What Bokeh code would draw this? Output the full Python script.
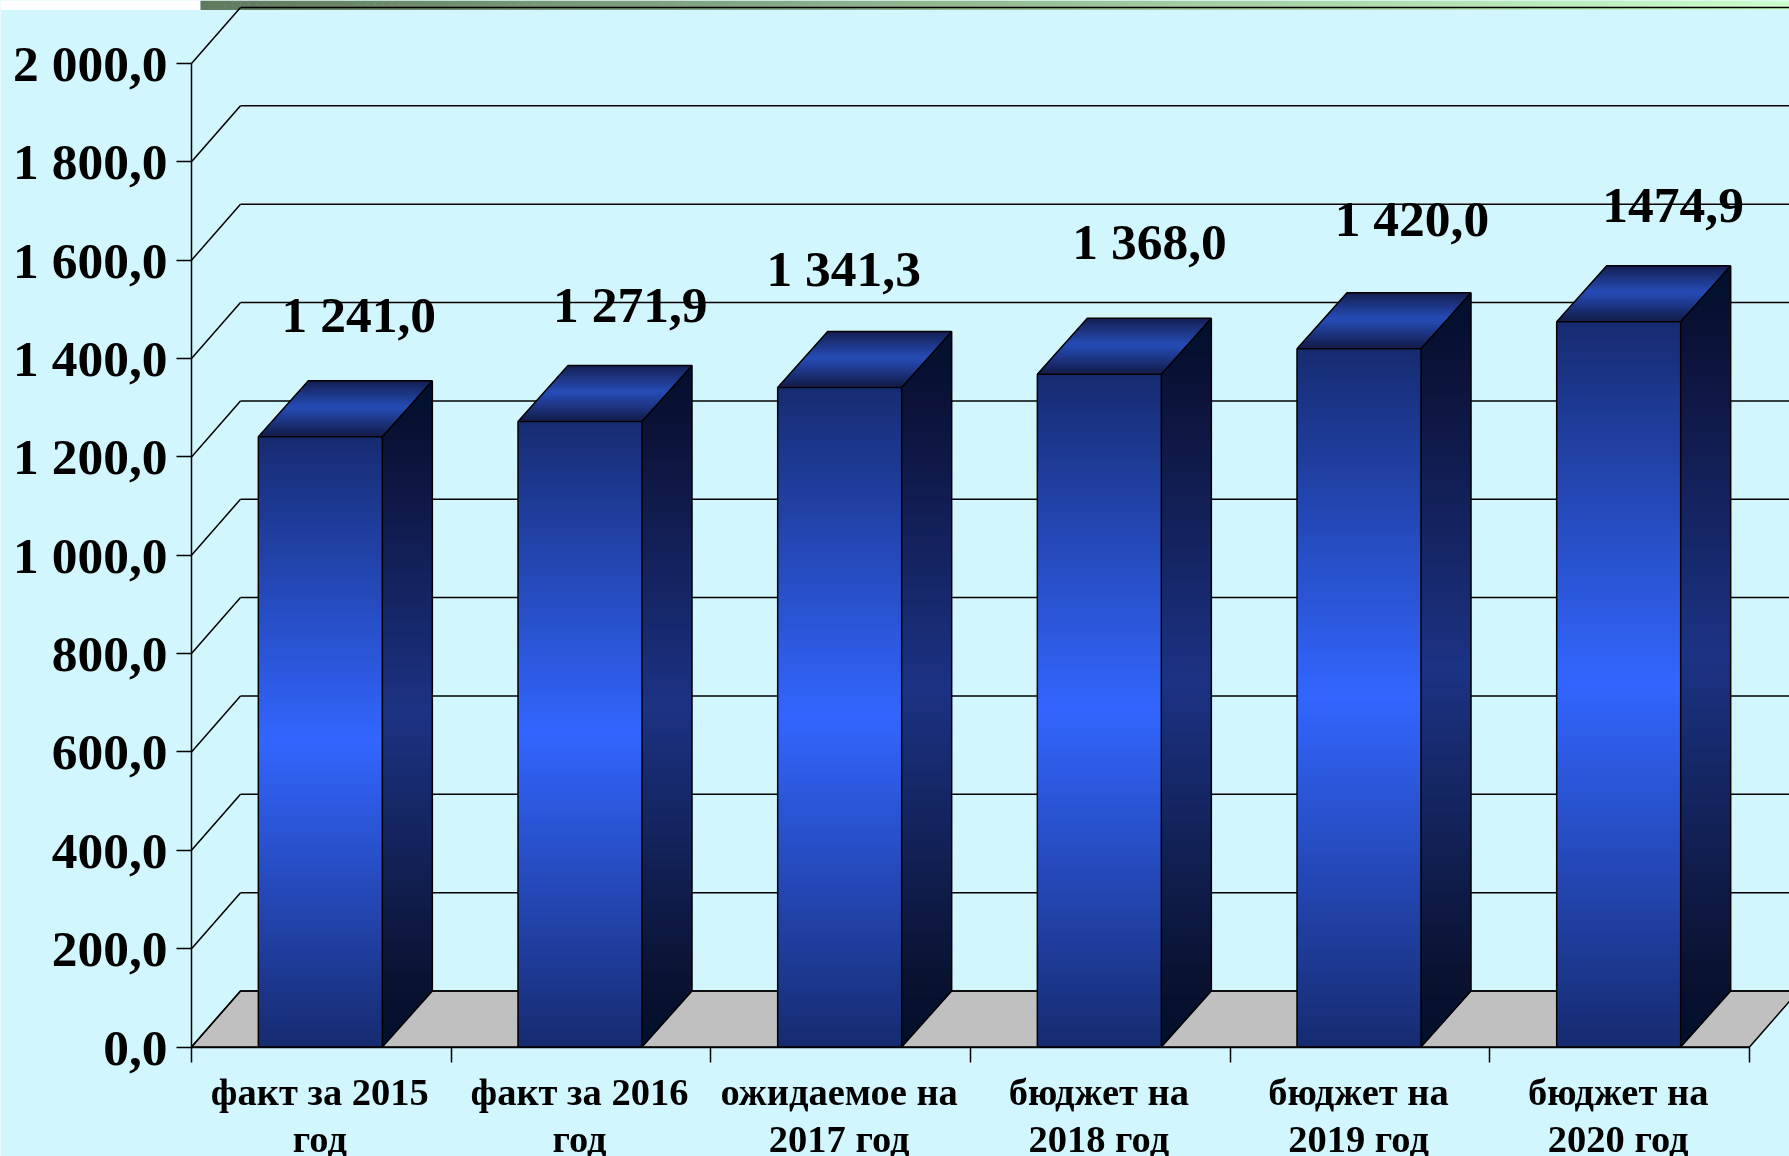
from bokeh.plotting import figure
from bokeh.models import FixedTicker, LinearAxis, ColumnDataSource, Range1d
from bokeh.core.properties import value as pvalue
from bokeh.embed import file_html
from bokeh.resources import INLINE

categories = ["факт за 2015\nгод", "факт за 2016\nгод", "ожидаемое на\n2017 год",
              "бюджет на\n2018 год", "бюджет на\n2019 год", "бюджет на\n2020 год"]
values = [1241.0, 1271.9, 1341.3, 1368.0, 1420.0, 1474.9]
value_labels = ["1 241,0", "1 271,9", "1 341,3", "1 368,0", "1 420,0", "1474,9"]
y_ticks = [0, 200, 400, 600, 800, 1000, 1200, 1400, 1600, 1800, 2000]
y_tick_labels = ["0,0", "200,0", "400,0", "600,0", "800,0", "1 000,0", "1 200,0",
                 "1 400,0", "1 600,0", "1 800,0", "2 000,0"]

# layout (pixels)
W, H = 1789, 1156
LEFT, BOTTOM = 191, 109.5
CAT_PX = 259.67
VAL_PX = 0.49175
px = lambda d: d / CAT_PX
pv = lambda d: d / VAL_PX
WALL_DX, DEPTH_DY = px(49), pv(56)
BAR_W, BAR_DX = px(124), px(50)
BAR_SHIFT = px(-1)
LABEL_SHIFT = px(-1.5)
X_MIN, X_MAX = px(-LEFT), px(W - LEFT)
Y_MIN, Y_MAX = pv(-BOTTOM), pv(H - BOTTOM)
FONT = "Liberation Serif"
BG = "#d2f6fd"
# hand-placed data-label offsets from the bar's top centre
label_dx = [38.5, 50.3, 4, 50.2, 52.9, 54.5]
label_dy = [122, 117, 118.5, 133, 130, 116]


def hexmix(a, b, t):
    ca = [int(a[i:i + 2], 16) for i in (1, 3, 5)]
    cb = [int(b[i:i + 2], 16) for i in (1, 3, 5)]
    return "#%02x%02x%02x" % tuple(round(x + (y - x) * t) for x, y in zip(ca, cb))


def ramp(stops, t):
    for (t0, c0), (t1, c1) in zip(stops, stops[1:]):
        if t <= t1:
            return hexmix(c0, c1, (t - t0) / (t1 - t0) if t1 > t0 else 0)
    return stops[-1][1]


FRONT = [(0, "#162b70"), (0.5, "#3366ff"), (1, "#162b70")]
SIDE = [(0, "#00102c"), (0.09, "#0a1230"), (0.5, "#1c3384"), (0.9, "#0c1238"), (1, "#00102c")]
TOP = [(0, "#131d4c"), (0.5, "#264cb8"), (1, "#131d4c")]

p = figure(width=W, height=H, output_backend="svg", toolbar_location=None,
           x_range=Range1d(X_MIN, X_MAX), y_range=Range1d(Y_MIN, Y_MAX),
           min_border=0, x_axis_location=None, y_axis_location=None,
           background_fill_color=BG, border_fill_color=BG)
p.styles = {"position": "fixed", "left": "0px", "top": "0px"}
p.outline_line_color = None
p.grid.visible = False

AX = dict(major_label_text_font=FONT, major_label_text_font_style="bold",
          major_label_text_color="#000000", axis_line_color="#000000", axis_line_width=1.5,
          major_tick_line_color="#000000", major_tick_line_width=1.5,
          minor_tick_line_color="#000000", minor_tick_line_width=1.5)

yax = LinearAxis(ticker=FixedTicker(ticks=y_ticks), bounds=(0, 2000), fixed_location=0,
                 major_label_overrides=dict(zip(y_ticks, y_tick_labels)),
                 major_label_text_font_size="51.5px", major_label_standoff=9,
                 major_tick_in=0, major_tick_out=15, minor_tick_in=0, minor_tick_out=0, **AX)
p.add_layout(yax, "left")

centres = [i + 0.5 for i in range(len(categories))]
label_ticks = [c + LABEL_SHIFT for c in centres]
edges = list(range(len(categories) + 1))
xax = LinearAxis(ticker=FixedTicker(ticks=label_ticks, minor_ticks=edges), bounds=(0, len(categories)),
                 fixed_location=0,
                 major_label_overrides=dict(zip(label_ticks, categories)),
                 major_label_text_font_size="38.5px", major_label_standoff=9,
                 major_label_text_line_height=1.11,
                 major_tick_in=0, major_tick_out=0, minor_tick_in=0, minor_tick_out=15, **AX)
p.add_layout(xax, "below")

# header strip
STRIP_Y = pv(H - BOTTOM - 9.5)
x0 = px(200 - LEFT)
n = 200
p.quad(left=[X_MIN], right=[x0], bottom=[STRIP_Y], top=[Y_MAX], color="#ffffff", line_width=0)
p.quad(left=[x0 + (X_MAX - x0) * i / n for i in range(n)],
       right=[x0 + (X_MAX - x0) * (i + 1) / n + 0.002 for i in range(n)],
       bottom=STRIP_Y, top=Y_MAX,
       color=[hexmix("#5f7a5f", "#ccffcc", i / n) for i in range(n)], line_width=0)

# floor
nc = len(categories)
p.patch([0, WALL_DX, nc + WALL_DX, nc], [0, DEPTH_DY, DEPTH_DY, 0], fill_color="#c0c0c0",
        line_color="#000000", line_width=1.5)

# gridlines of the back wall and their diagonals
p.segment([WALL_DX] * len(y_ticks), [v + DEPTH_DY for v in y_ticks],
          [X_MAX + 1] * len(y_ticks), [v + DEPTH_DY for v in y_ticks], line_color="#000000", line_width=1.5)
p.segment([0] * len(y_ticks), y_ticks, [WALL_DX] * len(y_ticks), [v + DEPTH_DY for v in y_ticks],
          line_color="#000000", line_width=1.5)


def band_polys(x_left, x_right, y_lo, y_hi, stops, step=pv(2.0), overlap=pv(1.5)):
    """horizontal slices of a polygon, each running under the next to avoid seams"""
    xs, ys, cs = [], [], []
    k = max(1, round((y_hi - y_lo) / step))
    for j in range(k):
        a = y_lo + (y_hi - y_lo) * j / k
        b = min(y_hi, y_lo + (y_hi - y_lo) * (j + 1) / k + overlap)
        xs.append([x_left(a), x_right(a), x_right(b), x_left(b)])
        ys.append([a, a, b, b])
        cs.append(ramp(stops, (j + 0.5) / k))
    xs.reverse(); ys.reverse(); cs.reverse()
    return xs, ys, cs


for c, v in zip(centres, values):
    c = c + BAR_SHIFT
    l, r = c - BAR_W / 2, c + BAR_W / 2
    # side face
    sl = lambda y, r=r, v=v: r + BAR_DX * max(0, y - v) / DEPTH_DY
    sr = lambda y, r=r: r + BAR_DX * min(DEPTH_DY, y) / DEPTH_DY
    xs, ys, cs = band_polys(sl, sr, 0, v + DEPTH_DY, SIDE)
    p.patches(xs, ys, fill_color=cs, line_color=None)
    # top face
    tl = lambda y, l=l, v=v: l + BAR_DX * (y - v) / DEPTH_DY
    tr = lambda y, r=r, v=v: r + BAR_DX * (y - v) / DEPTH_DY
    xs, ys, cs = band_polys(tl, tr, v, v + DEPTH_DY, TOP)
    p.patches(xs, ys, fill_color=cs, line_color=None)
    # front face
    fl = lambda y, l=l: l
    fr = lambda y, r=r: r
    xs, ys, cs = band_polys(fl, fr, 0, v, FRONT)
    p.patches(xs, ys, fill_color=cs, line_color=None)
    # outlines
    p.multi_line([[l, r, r, l, l], [l, l + BAR_DX, r + BAR_DX, r], [r + BAR_DX, r + BAR_DX, r]],
                 [[0, 0, v, v, 0], [v, v + DEPTH_DY, v + DEPTH_DY, v], [v + DEPTH_DY, DEPTH_DY, 0]],
                 line_color="#000000", line_width=1.5)

src = ColumnDataSource(dict(x=[c + BAR_SHIFT for c in centres], y=values, t=value_labels, dx=label_dx,
                            dy=[-d for d in label_dy]))
p.text("x", "y", text="t", x_offset="dx", y_offset="dy", source=src,
       text_font=pvalue(FONT), text_font_style="bold", text_font_size="51.5px",
       text_color="#000000", text_align="center", text_baseline="middle")

open("out.html", "w").write(file_html(p, INLINE))
